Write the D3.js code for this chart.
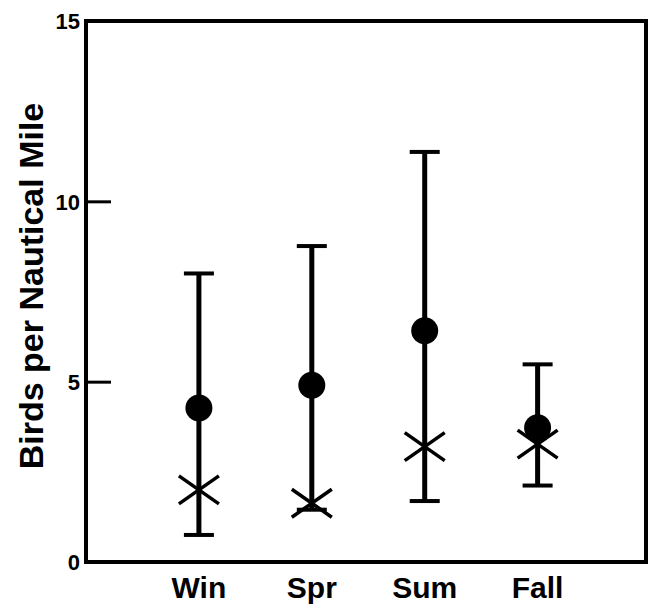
<!DOCTYPE html>
<html>
<head>
<meta charset="utf-8">
<script src="https://cdn.jsdelivr.net/npm/d3@7"></script>
<style>
  html, body { margin: 0; padding: 0; background: #fff; }
  text { font-family: "Liberation Sans", Arial, Helvetica, sans-serif; font-weight: bold; }
</style>
</head>
<body>
<svg id="chart" width="651" height="604"></svg>
<script>
const seasons = ["Win", "Spr", "Sum", "Fall"];
const meanValues = [4.27, 4.9, 6.41, 3.72];
const medianValues = [2.0, 1.63, 3.2, 3.27];
const upperValues = [8.0, 8.76, 11.37, 5.48];
const lowerValues = [0.75, 1.45, 1.69, 2.12];
const yTicks = [0, 5, 10, 15];
const yLabel = "Birds per Nautical Mile";

(function () {
const svg = d3.select("#chart");
const mLeft = 86, mRight = 646, mTop = 21, mBottom = 562;

const x = d3.scaleLinear().domain([0, 4.96]).range([mLeft, mRight]);
const y = d3.scaleLinear().domain([0, 15]).range([mBottom, mTop]);

const data = seasons.map((s, i) => ({
  s, i: i + 1, mean: meanValues[i], med: medianValues[i], hi: upperValues[i], lo: lowerValues[i]
}));

// y axis
const yAxis = d3.axisLeft(y).tickValues(yTicks).tickSizeInner(-25).tickSizeOuter(0).tickPadding(6);
const gy = svg.append("g").attr("transform", `translate(${mLeft},0)`).call(yAxis);
gy.select(".domain").remove();
gy.attr("font-size", null).attr("font-family", null);
gy.selectAll(".tick line").attr("stroke", "#000").attr("stroke-width", 3);
gy.selectAll(".tick text").attr("fill", "#000").style("font-size", "22px").attr("x", -6).attr("dy", "0.36em");

// frame
svg.append("rect")
  .attr("x", mLeft).attr("y", mTop)
  .attr("width", mRight - mLeft).attr("height", mBottom - mTop)
  .attr("fill", "none").attr("stroke", "#000").attr("stroke-width", 4);

// x category labels
svg.append("g").selectAll("text").data(data).join("text")
  .attr("x", d => x(d.i)).attr("y", 598)
  .attr("text-anchor", "middle")
  .style("font-size", "30px")
  .attr("fill", "#000")
  .text(d => d.s);

// y label
svg.append("text")
  .attr("transform", `translate(43,${(100 + 472) / 2}) rotate(-90)`)
  .attr("text-anchor", "middle")
  .style("font-size", "34px")
  .attr("fill", "#000")
  .text(yLabel);

// error bars
const g = svg.append("g");
g.selectAll("line.bar").data(data).join("line")
  .attr("class", "bar")
  .attr("x1", d => x(d.i)).attr("x2", d => x(d.i))
  .attr("y1", d => y(d.hi)).attr("y2", d => y(d.lo))
  .attr("stroke", "#000").attr("stroke-width", 5);
const capW = 15;
g.selectAll("line.capHi").data(data).join("line")
  .attr("class", "capHi")
  .attr("x1", d => x(d.i) - capW).attr("x2", d => x(d.i) + capW)
  .attr("y1", d => y(d.hi)).attr("y2", d => y(d.hi))
  .attr("stroke", "#000").attr("stroke-width", 4);
g.selectAll("line.capLo").data(data).join("line")
  .attr("class", "capLo")
  .attr("x1", d => x(d.i) - capW).attr("x2", d => x(d.i) + capW)
  .attr("y1", d => y(d.lo)).attr("y2", d => y(d.lo))
  .attr("stroke", "#000").attr("stroke-width", 4);

// mean circles
g.selectAll("circle").data(data).join("circle")
  .attr("cx", d => x(d.i)).attr("cy", d => y(d.mean))
  .attr("r", 13.5).attr("fill", "#000");

// X markers
const hw = 20, hh = 14;
const xm = g.selectAll("g.xm").data(data).join("g").attr("class", "xm")
  .attr("transform", d => `translate(${x(d.i)},${y(d.med)})`);
xm.append("line").attr("x1", -hw).attr("y1", -hh).attr("x2", hw).attr("y2", hh)
  .attr("stroke", "#000").attr("stroke-width", 3.5);
xm.append("line").attr("x1", -hw).attr("y1", hh).attr("x2", hw).attr("y2", -hh)
  .attr("stroke", "#000").attr("stroke-width", 3.5);
})();
</script>
</body>
</html>
